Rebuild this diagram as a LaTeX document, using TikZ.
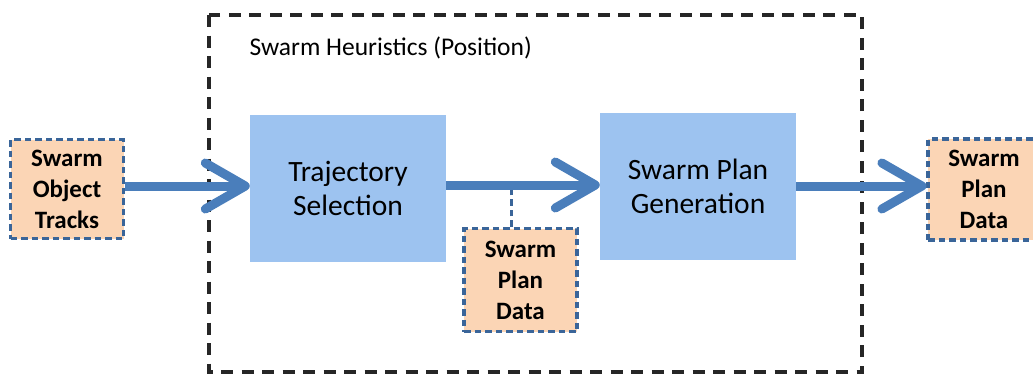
\documentclass[tikz,border=0pt]{standalone}
\usepackage{fontspec}
\setmainfont{Carlito}
\usetikzlibrary{arrows.meta}
\definecolor{procfill}{HTML}{9DC3F0}
\definecolor{datafill}{HTML}{FBD5B5}
\definecolor{databorder}{HTML}{3A6599}
\definecolor{flow}{HTML}{4A7EBB}
\tikzset{
  process/.style={fill=procfill, draw=none, minimum width=196pt, minimum height=147pt,
    align=center, inner sep=0pt, font=\fontsize{29.5}{34}\selectfont, text=black},
  datastore/.style={fill=datafill, draw=databorder, line width=3.2pt,
    dash pattern=on 6.5pt off 4pt, minimum width=113pt, align=center, inner sep=0pt,
    font=\bfseries\fontsize{25}{31}\selectfont, text=black},
  flowarrow/.style={draw=flow, line width=9pt,
    -{Straight Barb[length=40pt, width=46pt, round]}},
  tap/.style={draw=databorder, line width=3pt, dash pattern=on 6.5pt off 4pt},
  frame/.style={draw=black!85, line width=3.4pt, dash pattern=on 12pt off 8.5pt}
}
\begin{document}
\begin{tikzpicture}[x=1pt, y=-1pt]
  \useasboundingbox (0,0) rectangle (1033,376);
  % enclosing heuristics block
  \draw[frame] (209,15) rectangle (862,372);
  \node[anchor=west, font=\fontsize{25.5}{30}\selectfont, text=black] (title) at (246,48) {Swarm Heuristics (Position)};
  % processing steps
  \node[process] (traj) at (348,188.5) {Trajectory\\Selection};
  \node[process] (gen) at (698,186.5) {Swarm Plan\\Generation};
  % data items
  \node[datastore, minimum height=99pt] (tracks) at (67,189) {Swarm\\Object\\Tracks};
  \node[datastore, minimum height=103pt] (plan) at (520.5,280) {Swarm\\Plan\\Data};
  \node[datastore, minimum height=101pt, minimum width=112pt] (out) at (984,189.5) {Swarm\\Plan\\Data};
  % flow between the blocks
  \coordinate (tapjoin) at (511,185);
  \draw[tap] (plan.north -| tapjoin) -- (tapjoin);
  \draw[flowarrow] (tracks.east |- 0,186) -- (traj.west |- 0,186);
  \draw[flowarrow] (traj.east |- 0,185) -- (gen.west |- 0,185);
  \draw[flowarrow] (gen.east |- 0,186) -- (out.west |- 0,186);
\end{tikzpicture}
\end{document}
